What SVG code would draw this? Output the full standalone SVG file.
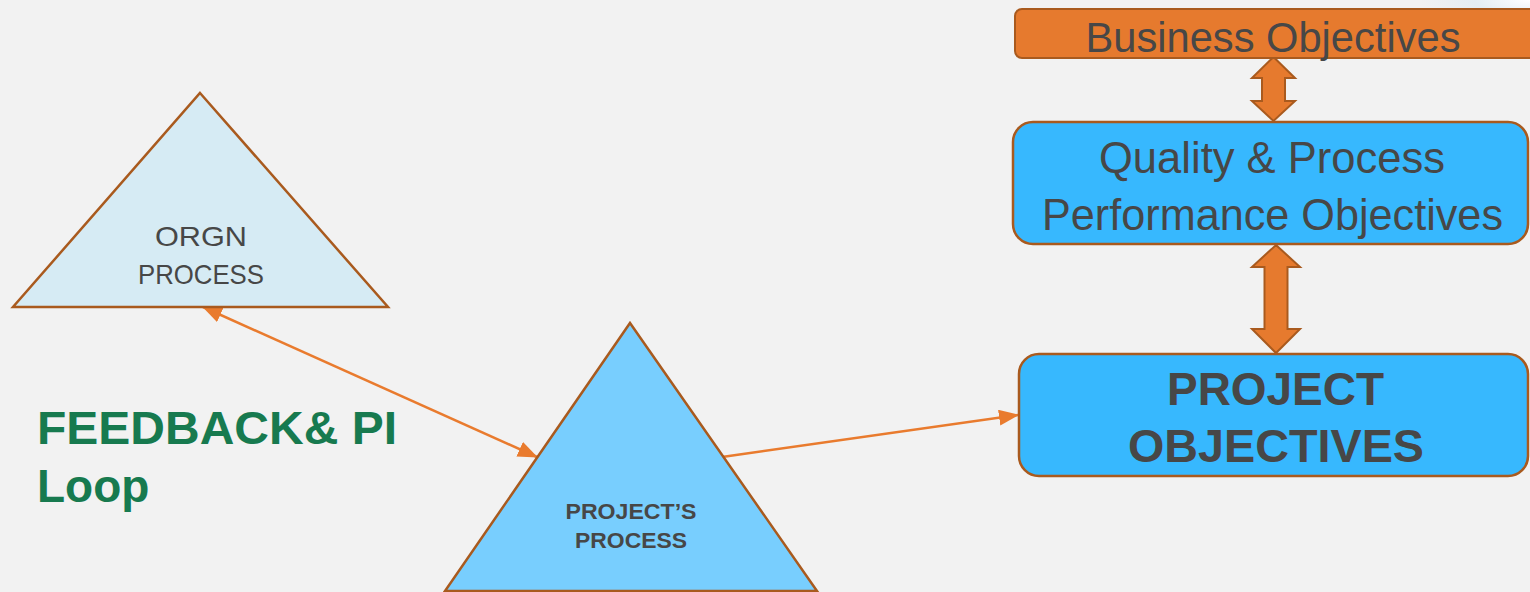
<svg xmlns="http://www.w3.org/2000/svg" width="1530" height="592" viewBox="0 0 1530 592">
  <defs>
    <style>
      .edge { fill: none; stroke: #E97B2E; stroke-width: 2.5; }
      .dbl { fill: #E67A2E; stroke: #A95A1E; stroke-width: 2; stroke-linejoin: miter; }
      .box-orange { fill: #E67A2E; stroke: #A95A1E; stroke-width: 2; }
      .box-blue { fill: #37B8FE; stroke: #A95A1E; stroke-width: 2.5; }
      .tri { stroke: #A95A1E; stroke-width: 2.5; stroke-linejoin: miter; }
      .lbl { font-family: "Liberation Sans", Arial, sans-serif; fill: #474747; text-anchor: middle; }
      .bold { font-weight: bold; }
      .green { font-family: "Liberation Sans", Arial, sans-serif; font-weight: bold; fill: #177A4F; }
    </style>
    <marker id="head" markerUnits="userSpaceOnUse" markerWidth="20" markerHeight="16" refX="19" refY="8" orient="auto-start-reverse">
      <path d="M0,0 L20,8 L0,16 Z" fill="#E97B2E"/>
    </marker>
    <radialGradient id="glow" cx="1" cy="0" r="1">
      <stop offset="0" stop-color="#FFFFFF"/>
      <stop offset="0.5" stop-color="#E4EEF4"/>
      <stop offset="1" stop-color="#F2F2F2"/>
    </radialGradient>
  </defs>

  <!-- page background -->
  <rect width="1530" height="592" fill="#F2F2F2"/>
  <rect x="1420" y="0" width="110" height="30" fill="url(#glow)"/>

  <!-- connectors -->
  <g id="connectors">
    <line class="edge" x1="203" y1="307" x2="537" y2="457" marker-start="url(#head)" marker-end="url(#head)"/>
    <line class="edge" x1="722" y1="457" x2="1018" y2="415" marker-end="url(#head)"/>
    <!-- block double arrows between the objective boxes -->
    <polygon class="dbl" points="1273.5,57 1295,78 1285,78 1285,101 1295,101 1273.5,121 1252,101 1262,101 1262,78 1252,78"/>
    <polygon class="dbl" points="1276,245 1300,267 1287.5,267 1287.5,329 1300,329 1276,353 1252,329 1264.5,329 1264.5,267 1252,267"/>
  </g>

  <!-- organisation process -->
  <g id="orgn-process">
    <polygon class="tri" fill="#D6EBF4" points="200,93 388,307 13,307"/>
    <text class="lbl" x="201" y="246" font-size="28" textLength="92" lengthAdjust="spacingAndGlyphs">ORGN</text>
    <text class="lbl" x="201" y="284" font-size="28" textLength="126" lengthAdjust="spacingAndGlyphs">PROCESS</text>
  </g>

  <!-- project's process -->
  <g id="projects-process">
    <polygon class="tri" fill="#78CEFE" points="630,323 817,591 445,591"/>
    <text class="lbl bold" x="631" y="519" font-size="22" textLength="131" lengthAdjust="spacingAndGlyphs">PROJECT’S</text>
    <text class="lbl bold" x="631" y="548" font-size="22" textLength="112" lengthAdjust="spacingAndGlyphs">PROCESS</text>
  </g>

  <!-- feedback label -->
  <g id="feedback">
    <text class="green" x="37" y="444" font-size="46" textLength="360" lengthAdjust="spacingAndGlyphs">FEEDBACK&amp; PI</text>
    <text class="green" x="37" y="502" font-size="46">Loop</text>
  </g>

  <!-- business objectives -->
  <g id="business-objectives">
    <rect class="box-orange" x="1015" y="9" width="540" height="49" rx="7"/>
    <text class="lbl" x="1273" y="52" font-size="43" textLength="375" lengthAdjust="spacingAndGlyphs">Business Objectives</text>
  </g>

  <!-- quality and process performance objectives -->
  <g id="quality-objectives">
    <rect class="box-blue" x="1013" y="122" width="515" height="122" rx="20"/>
    <text class="lbl" x="1272" y="173" font-size="44" textLength="346" lengthAdjust="spacingAndGlyphs">Quality &amp; Process</text>
    <text class="lbl" x="1272.5" y="230" font-size="44" textLength="461" lengthAdjust="spacingAndGlyphs">Performance Objectives</text>
  </g>

  <!-- project objectives -->
  <g id="project-objectives">
    <rect class="box-blue" x="1019" y="354" width="509" height="122" rx="20"/>
    <text class="lbl bold" x="1275.5" y="405" font-size="46" textLength="217" lengthAdjust="spacingAndGlyphs">PROJECT</text>
    <text class="lbl bold" x="1276" y="462" font-size="46" textLength="296" lengthAdjust="spacingAndGlyphs">OBJECTIVES</text>
  </g>
</svg>
